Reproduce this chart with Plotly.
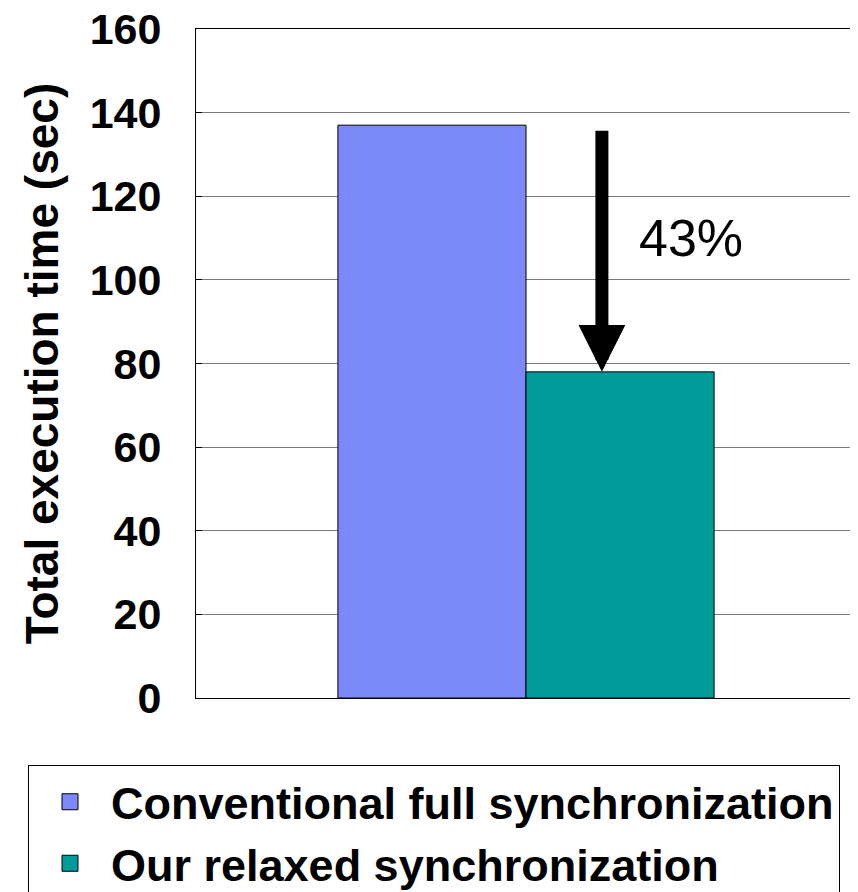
import plotly.graph_objects as go

# ---- data ----
series_names = ["Conventional full synchronization", "Our relaxed synchronization"]
series_values = [137, 78]
series_colors = ["#7B89FB", "#009A9A"]
y_ticks = [0, 20, 40, 60, 80, 100, 120, 140, 160]
y_title = "Total execution time (sec)"

FONT = "Liberation Sans, Arial, Helvetica, sans-serif"

fig = go.Figure()
for name, val, col in zip(series_names, series_values, series_colors):
    fig.add_trace(go.Bar(
        x=[0], y=[val], name=name, showlegend=False,
        marker=dict(color=col, line=dict(color="black", width=1)),
    ))
# legend proxies (bigger square icons)
for name, col in zip(series_names, series_colors):
    fig.add_trace(go.Scatter(
        x=[None], y=[None], mode="markers", name=name,
        marker=dict(symbol="square", size=16, color=col, line=dict(color="black", width=1)),
    ))

reduction = round((1 - series_values[1] / series_values[0]) * 100)
arrow_x = 0.115
fig.add_annotation(
    x=arrow_x, y=series_values[1], ax=arrow_x, ay=series_values[0] - 1,
    xref="x", yref="y", axref="x", ayref="y",
    text="", showarrow=True, arrowhead=2, arrowsize=0.72, arrowwidth=13,
    arrowcolor="black", standoff=0,
)
fig.add_annotation(
    x=0.25, y=110, xref="x", yref="y", text=f"{reduction}%", showarrow=False,
    font=dict(family=FONT, size=52, color="black"),
)

# page body has an 8px margin, so offsets compensate for it
fig.update_layout(
    width=858, height=892,
    margin=dict(l=188, r=10, t=21, b=202),
    paper_bgcolor="white", plot_bgcolor="white",
    barmode="group", bargap=0.43, bargroupgap=0,
    font=dict(family=FONT, color="black"),
    legend=dict(
        orientation="h",
        xref="container", yref="container",
        x=20 / 858, y=1 - 757 / 892, xanchor="left", yanchor="top",
        bordercolor="black", borderwidth=1, bgcolor="white",
        font=dict(family=FONT, size=45, color="black", weight="bold"),
        itemwidth=72, tracegroupgap=0,
    ),
)
fig.update_xaxes(
    range=[-0.5, 0.5], showticklabels=False, ticks="",
    showline=True, mirror=True, linecolor="black", linewidth=1,
    showgrid=False, zeroline=False, automargin=False,
)
fig.update_yaxes(
    range=[0, 160], tickvals=y_ticks, ticktext=[str(t) for t in y_ticks],
    showgrid=True, gridcolor="#7a7a7a", gridwidth=1,
    showline=True, mirror=True, linecolor="black", linewidth=1,
    ticks="inside", ticklen=6, tickcolor="black",
    zeroline=False, automargin=False, ticklabeloverflow="allow",
    tickfont=dict(family=FONT, size=43, color="black", weight="bold"),
    ticklabelstandoff=25,
    title=dict(text=y_title, font=dict(family=FONT, size=46, color="black", weight="bold"), standoff=16),
)

fig.write_html("out.html")
